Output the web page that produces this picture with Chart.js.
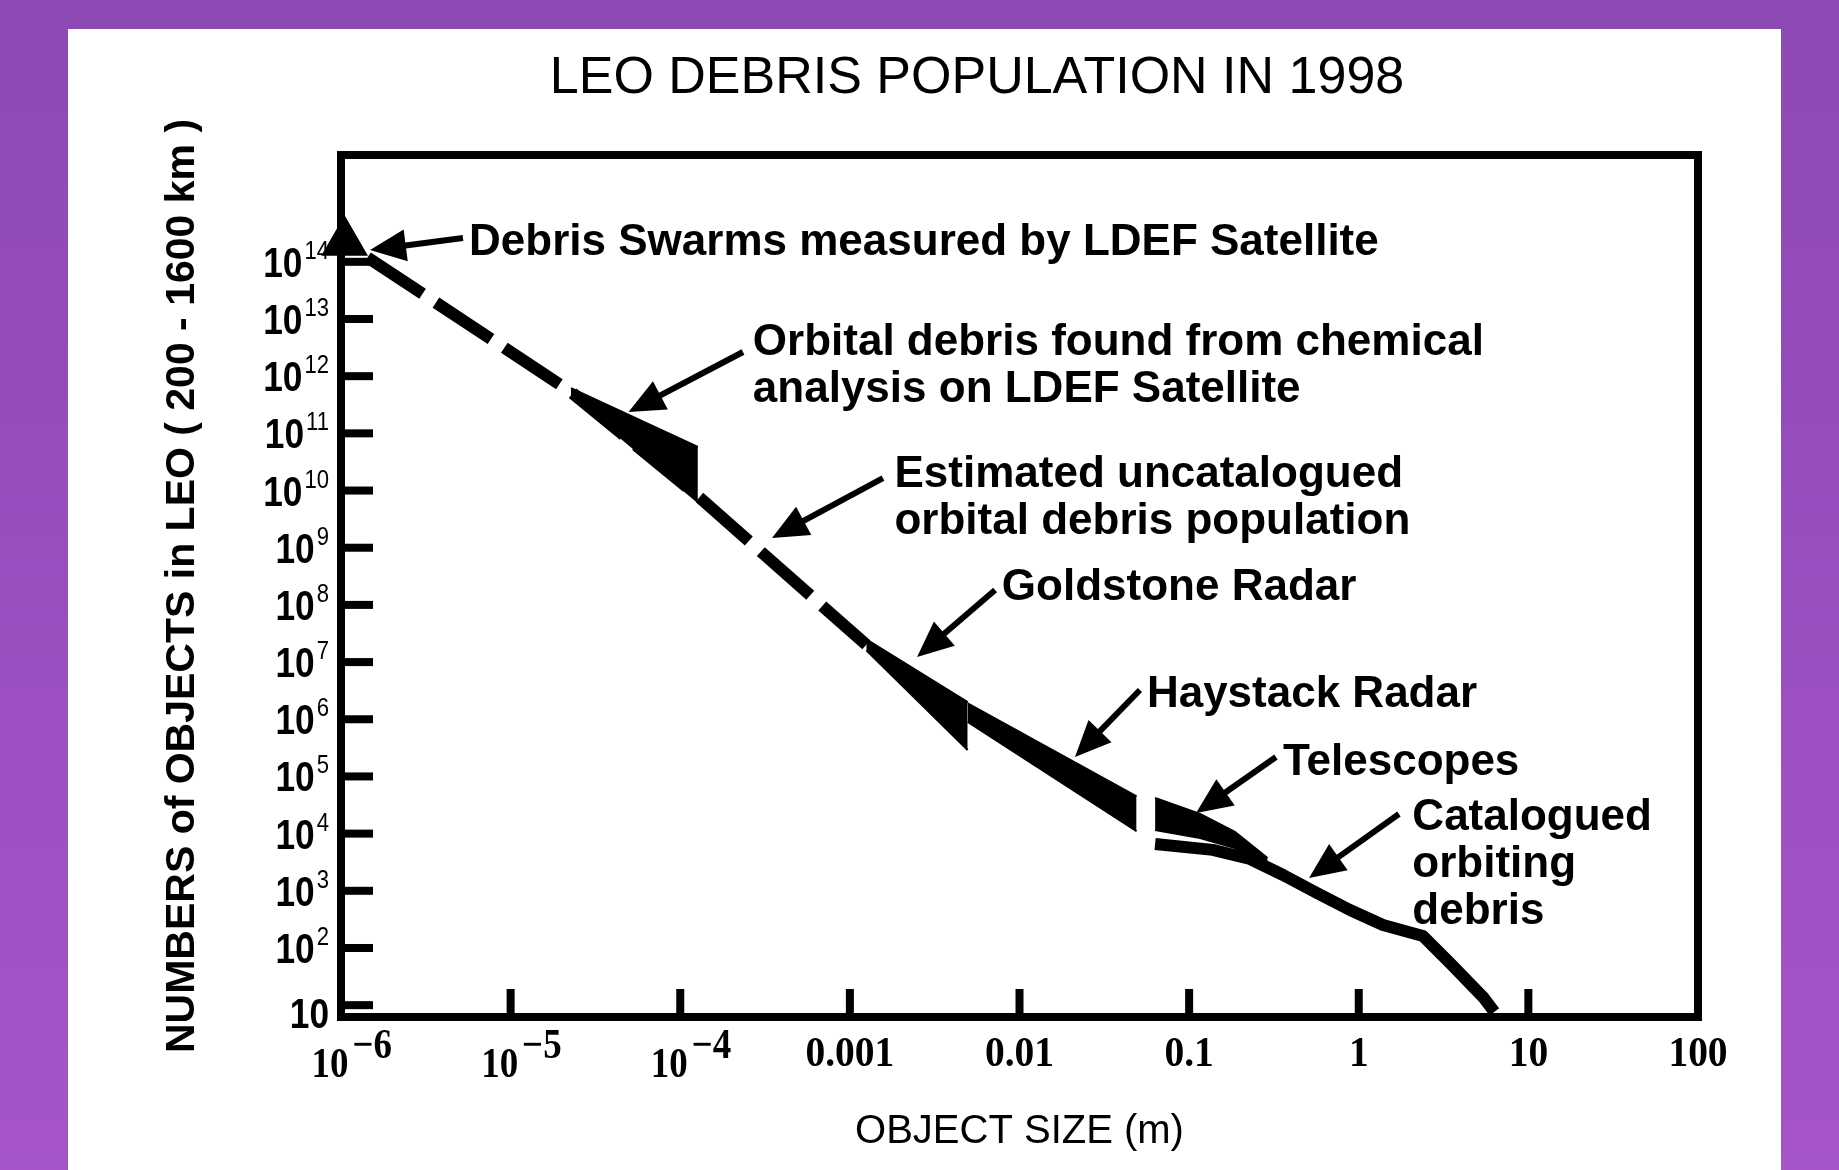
<!DOCTYPE html>
<html>
<head>
<meta charset="utf-8">
<script src="https://cdn.jsdelivr.net/npm/chart.js@4.4.1/dist/chart.umd.min.js"></script>
<style>
  html, body { margin: 0; padding: 0; width: 1839px; height: 1170px; overflow: hidden;
    background: linear-gradient(180deg, #8d49b3 0%, #a554ca 100%); }
  #panel { position: absolute; left: 68px; top: 29px; width: 1713px; height: 1141px; background: #fff; }
  #chart { position: absolute; left: 68px; top: 29px; }
</style>
</head>
<body>
<div id="panel"></div>
<canvas id="chart" width="1818" height="1141"></canvas>
<script>
// ---- data (x = object size in m, y = number of objects) ----

// LDEF debris swarm point
const swarmX = 1.05e-6;
const swarmY = 2.2e14;

// estimated uncatalogued population (dashed)
const uncatX = [1.05e-6, 2.27e-5, 1.31e-4, 1.25e-3];
const uncatY = [2.2e14, 5.3e11, 7.4e9, 2.0e7];

// chemical analysis on LDEF (band)
const chemX = [2.27e-5, 1.27e-4];
const chemLow = [4.5e11, 6.3e9];
const chemHigh = [6.2e11, 5.8e10];

// Goldstone radar (band)
const goldX = [1.25e-3, 4.95e-3];
const goldLow = [1.6e7, 2.9e5];
const goldHigh = [2.5e7, 2.0e6];

// Haystack radar (band)
const haysX = [4.95e-3, 4.9e-2];
const haysLow = [9.0e5, 1.1e4];
const haysHigh = [1.9e6, 4.5e4];

// telescopes (band)
const teleX = [0.063, 0.116, 0.186, 0.29];
const teleLow = [1.16e4, 8.4e3, 5.6e3, 2.7e3];
const teleHigh = [4.2e4, 2.2e4, 1.07e4, 3.75e3];

// catalogued orbiting debris
const catX = [0.063, 0.138, 0.229, 0.358, 0.567, 0.888, 1.39, 2.39, 3.45, 5.4, 6.3];
const catY = [6.6e3, 5.2e3, 3.6e3, 1.89e3, 914, 461, 252, 162, 54.6, 13.9, 7.6];

// axes ('^' splits base and exponent)
const xTicks = [1e-6, 1e-5, 1e-4, 1e-3, 1e-2, 0.1, 1, 10, 100];
const xTickLabels = ['10^−6', '10^−5', '10^−4', '0.001', '0.01', '0.1', '1', '10', '100'];
const yTicks = [1e1, 1e2, 1e3, 1e4, 1e5, 1e6, 1e7, 1e8, 1e9, 1e10, 1e11, 1e12, 1e13, 1e14];
const yTickLabels = ['10', '10^2', '10^3', '10^4', '10^5', '10^6', '10^7', '10^8', '10^9', '10^10', '10^11', '10^12', '10^13', '10^14'];

// callouts, positions as log10 of (size, count)
const notes = [
  { lines: ['Debris Swarms measured by LDEF Satellite'], at: [-5.245, 14.119], tail: [-5.281, 14.416], tip: [-5.829, 14.207] },
  { lines: ['Orbital debris found from chemical', 'analysis on LDEF Satellite'], at: [-3.572, 12.370], tail: [-3.630, 12.423], tip: [-4.305, 11.373] },
  { lines: ['Estimated uncatalogued', 'orbital debris population'], at: [-2.737, 10.067], tail: [-2.805, 10.219], tip: [-3.459, 9.170] },
  { lines: ['Goldstone Radar'], at: [-2.104, 8.086], tail: [-2.144, 8.260], tip: [-2.604, 7.089] },
  { lines: ['Haystack Radar'], at: [-1.249, 6.220], tail: [-1.290, 6.512], tip: [-1.673, 5.340] },
  { lines: ['Telescopes'], at: [-0.447, 5.025], tail: [-0.488, 5.340], tip: [-0.959, 4.360] },
  { lines: ['Catalogued', 'orbiting', 'debris'], at: [0.316, 4.063], tail: [0.237, 4.343], tip: [-0.293, 3.224] }
];


// ---- fonts ----
const sans = "'Liberation Sans', Arial, sans-serif";
const serif = "'Liberation Serif', 'Times New Roman', serif";

const pts = (xs, ys) => xs.map((v, i) => ({ x: v, y: ys[i] }));

const base = { borderColor: '#000', backgroundColor: '#000', pointRadius: 0, tension: 0, fill: false, borderWidth: 2 };


// frame + inward ticks
const frame = {
  id: 'frame',
  beforeDatasetsDraw(chart) {
    const { ctx, chartArea: a, scales: { x, y } } = chart;
    ctx.save();
    ctx.fillStyle = '#000';
    y.ticks.forEach(t => {
      const py = y.getPixelForValue(t.value);
      ctx.fillRect(a.left, py - 4, 32, 8);
    });
    x.ticks.forEach(t => {
      const px = x.getPixelForValue(t.value);
      ctx.fillRect(px - 4, a.bottom - 28, 8, 28);
    });
    ctx.lineWidth = 8;
    ctx.strokeStyle = '#000';
    ctx.strokeRect(a.left, a.top, a.right - a.left, a.bottom - a.top);
    ctx.restore();
  }
};

// tick labels with raised exponents
const tickText = {
  id: 'tickText',
  afterDraw(chart) {
    const { ctx, chartArea: a, scales: { x, y } } = chart;
    const put = (text, px, py, font, sx, align) => {
      ctx.save();
      ctx.fillStyle = '#000';
      ctx.font = font;
      ctx.textAlign = align;
      ctx.textBaseline = 'alphabetic';
      ctx.translate(px, py);
      ctx.scale(sx, 1);
      ctx.fillText(text, 0, 0);
      ctx.restore();
    };
    const width = (text, font, sx) => { ctx.font = font; return ctx.measureText(text).width * sx; };

    const yBase = 'bold 43px ' + sans, yExp = '26px ' + sans;
    y.ticks.forEach((t, i) => {
      const [b, e] = yTickLabels[i].split('^');
      const py = y.getPixelForValue(t.value);
      let right = a.left - 12;
      if (e) {
        put(e, right, py - 3, yExp, 0.85, 'right');
        right -= width(e, yExp, 0.85) + 2;
        put(b, right, py + 15, yBase, 0.82, 'right');
      } else {
        // the bare "10" sits down on the x axis line
        put(b, right, py + 23, yBase, 0.82, 'right');
      }
    });

    const xFont = 'bold 42px ' + serif;
    x.ticks.forEach((t, i) => {
      const [b, e] = xTickLabels[i].split('^');
      const px = x.getPixelForValue(t.value);
      if (e) {
        const wb = width(b, xFont, 0.88);
        const left = px - 11 - wb / 2;
        put(b, left, a.bottom + 60, xFont, 0.88, 'left');
        put(e, left + wb + 4, a.bottom + 41, xFont, 0.88, 'left');
      } else {
        put(b, px, a.bottom + 49, xFont, 0.94, 'center');
      }
    });
  }
};

// text + arrows
const callouts = {
  id: 'callouts',
  afterDatasetsDraw(chart) {
    const { ctx, scales: { x, y } } = chart;
    const px = v => x.getPixelForValue(10 ** v);
    const py = v => y.getPixelForValue(10 ** v);
    ctx.save();
    ctx.fillStyle = '#000';
    ctx.strokeStyle = '#000';
    ctx.font = 'bold 44px ' + sans;
    ctx.textAlign = 'left';
    ctx.textBaseline = 'alphabetic';
    notes.forEach(n => {
      const tx = px(n.at[0]), ty = py(n.at[1]);
      n.lines.forEach((line, i) => ctx.fillText(line, tx, ty + i * 47));

      const x0 = px(n.tail[0]), y0 = py(n.tail[1]);
      const x1 = px(n.tip[0]), y1 = py(n.tip[1]);
      const ang = Math.atan2(y1 - y0, x1 - x0);
      const ux = Math.cos(ang), uy = Math.sin(ang);
      ctx.lineWidth = 6;
      ctx.beginPath();
      ctx.moveTo(x0, y0);
      ctx.lineTo(x1 - ux * 30, y1 - uy * 30);
      ctx.stroke();
      ctx.beginPath();
      ctx.moveTo(x1, y1);
      ctx.lineTo(x1 - ux * 36 - uy * 16, y1 - uy * 36 + ux * 16);
      ctx.lineTo(x1 - ux * 36 + uy * 16, y1 - uy * 36 - ux * 16);
      ctx.closePath();
      ctx.fill();
    });
    ctx.restore();
  }
};


new Chart(document.getElementById('chart'), {
  type: 'line',
  data: {
    datasets: [
      { ...base, label: 'Estimated uncatalogued', data: pts(uncatX, uncatY), borderWidth: 12,
        borderDash: [66, 16], borderDashOffset: 54.5, borderCapStyle: 'butt' },
      { ...base, label: 'Chemical analysis low', data: pts(chemX, chemLow) },
      { ...base, label: 'Chemical analysis high', data: pts(chemX, chemHigh), fill: '-1' },
      { ...base, label: 'Goldstone low', data: pts(goldX, goldLow) },
      { ...base, label: 'Goldstone high', data: pts(goldX, goldHigh), fill: '-1' },
      { ...base, label: 'Haystack low', data: pts(haysX, haysLow) },
      { ...base, label: 'Haystack high', data: pts(haysX, haysHigh), fill: '-1' },
      { ...base, label: 'Telescopes low', data: pts(teleX, teleLow) },
      { ...base, label: 'Telescopes high', data: pts(teleX, teleHigh), fill: '-1' },
      { ...base, label: 'Catalogued', data: pts(catX, catY), borderWidth: 12, borderJoinStyle: 'round' },
      { label: 'LDEF swarms', data: [{ x: swarmX, y: swarmY }], showLine: false, pointStyle: 'triangle',
        pointRadius: 25, pointBorderWidth: 2, backgroundColor: '#000', borderColor: '#000', clip: false }
    ]
  },
  options: {
    responsive: false,
    devicePixelRatio: 1,
    animation: false,
    events: [],
    layout: { padding: 0 },
    plugins: {
      legend: { display: false },
      tooltip: { enabled: false },
      title: {
        display: true,
        text: 'LEO DEBRIS POPULATION IN 1998',
        color: '#000',
        font: { family: sans, size: 52, weight: 'normal' },
        padding: { top: 18, bottom: 45.6 }
      }
    },
    scales: {
      x: {
        type: 'logarithmic',
        min: 1e-6,
        max: 100,
        afterBuildTicks: s => { s.ticks = xTicks.map(v => ({ value: v })); },
        afterFit: s => { s.height = 153; },
        grid: { display: false, drawTicks: false },
        border: { display: false },
        ticks: { display: false },
        title: {
          display: true, text: 'OBJECT SIZE (m)', color: '#000',
          font: { family: sans, size: 40, weight: 'normal' },
          padding: { top: 0, bottom: 14 }
        }
      },
      y: {
        type: 'logarithmic',
        min: 10 ** 0.793,
        max: 10 ** 15.868,
        afterBuildTicks: s => { s.ticks = yTicks.map(v => ({ value: v })); },
        afterFit: s => { s.width = 273; },
        grid: { display: false, drawTicks: false },
        border: { display: false },
        ticks: { display: false },
        title: {
          display: true, text: 'NUMBERS of OBJECTS in LEO ( 200 - 1600 km )', color: '#000',
          font: { family: sans, size: 41, weight: 'bold' },
          padding: { top: 90, bottom: 0 }
        }
      },
      // empty right-hand box so the chart title centres on the whole panel
      spacer: {
        type: 'linear',
        position: 'right',
        afterFit: s => { s.width = 188; },
        grid: { display: false, drawTicks: false },
        border: { display: false },
        ticks: { display: false }
      }
    }
  },
  plugins: [frame, callouts, tickText]
});
</script>
</body>
</html>
